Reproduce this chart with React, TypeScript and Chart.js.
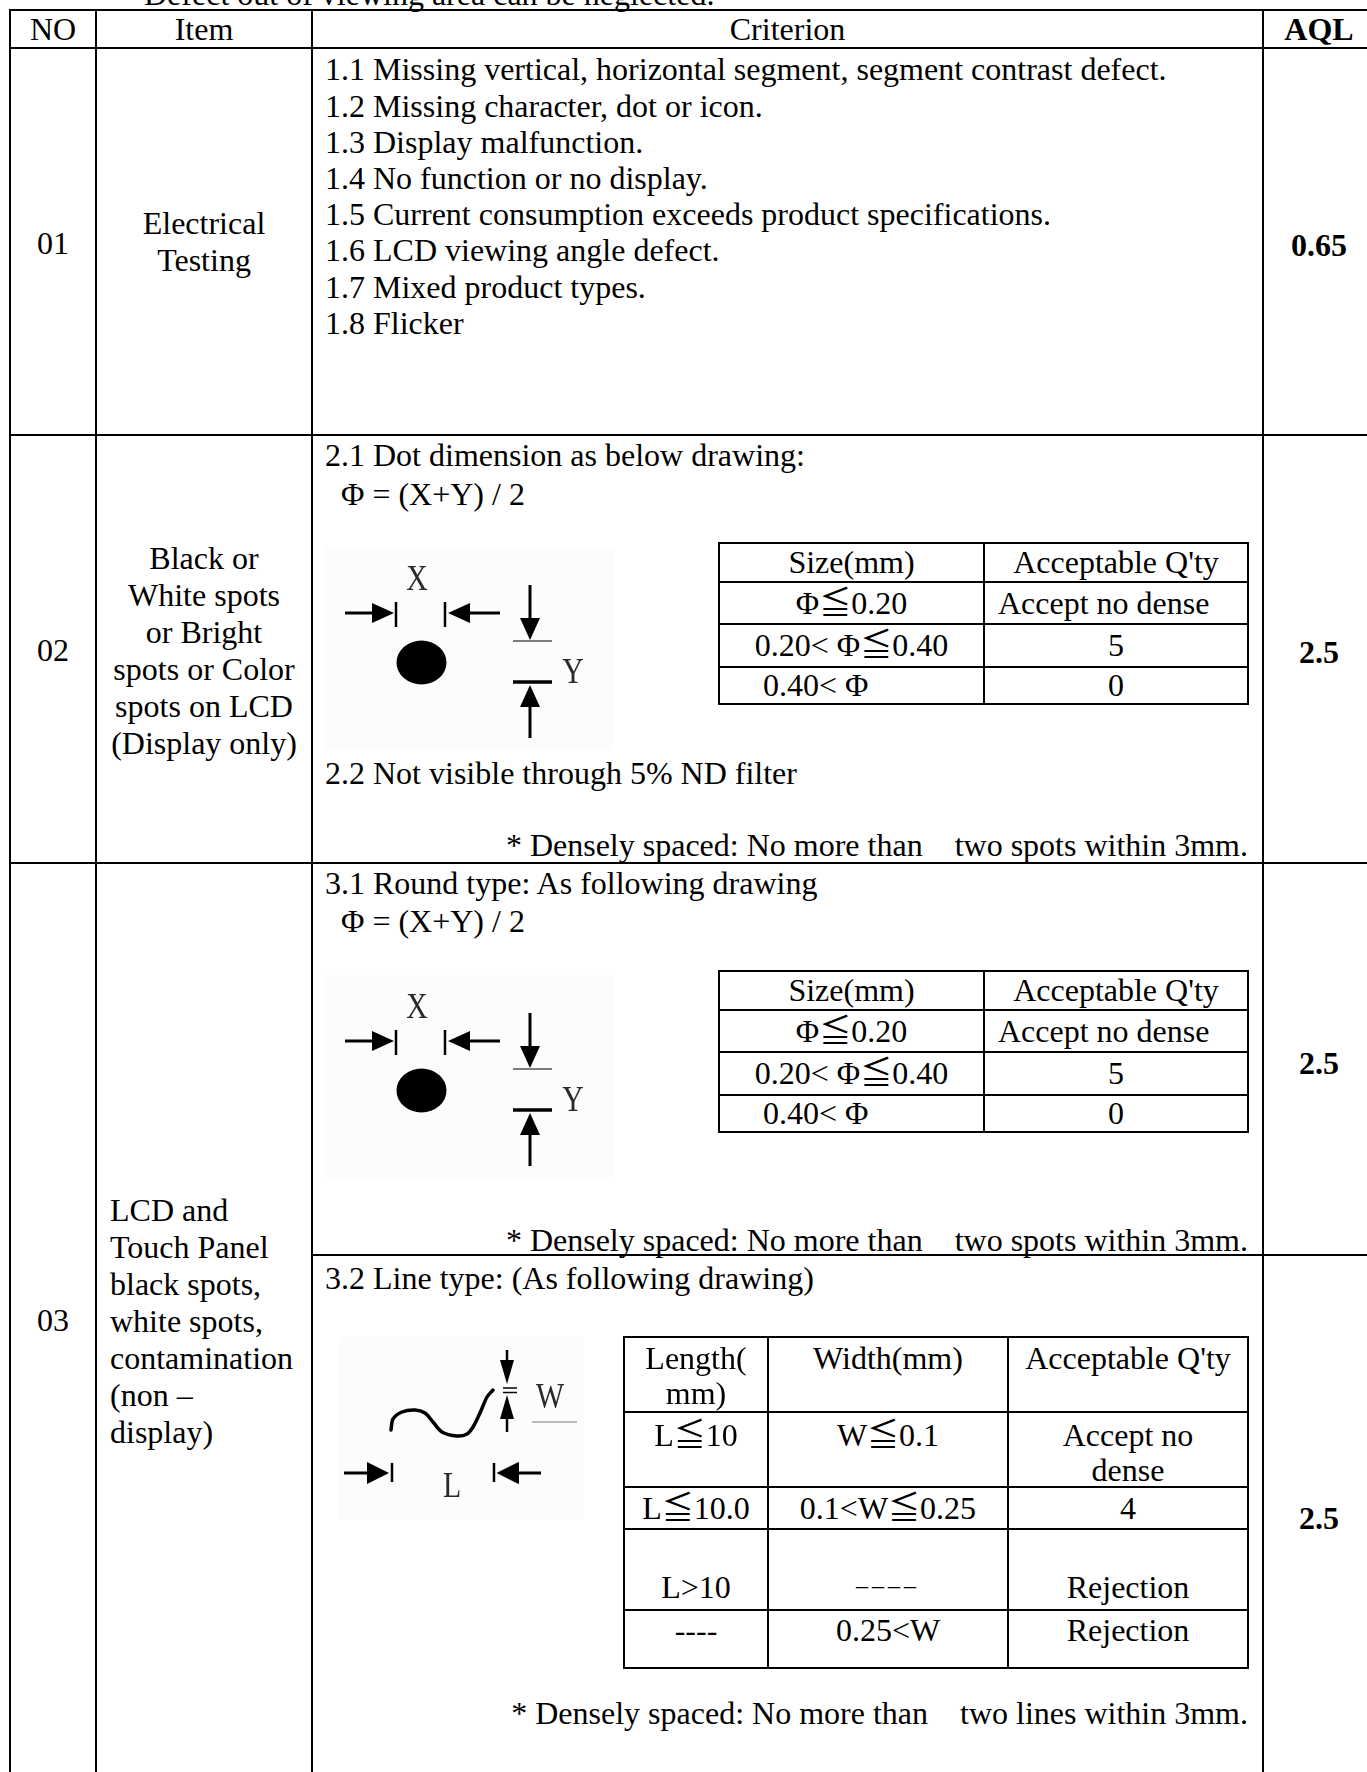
import React, { useEffect, useRef } from "react";
import { Chart, registerables } from "chart.js";

Chart.register(...registerables);

// ---------------- data ----------------
const NOTE_TOP = "Defect out of viewing area can be neglected.";
const HEADERS = ["NO", "Item", "Criterion", "AQL"];
const ROW_NO = ["01", "02", "03"];
const ITEM_01 = ["Electrical", "Testing"];
const ITEM_02 = ["Black or", "White spots", "or Bright", "spots or Color", "spots on LCD", "(Display only)"];
const ITEM_03 = ["LCD and", "Touch Panel", "black spots,", "white spots,", "contamination", "(non \u2013", "display)"];
const CRITERIA_01 = [
  "1.1 Missing vertical, horizontal segment, segment contrast defect.",
  "1.2 Missing character, dot or icon.",
  "1.3 Display malfunction.",
  "1.4 No function or no display.",
  "1.5 Current consumption exceeds product specifications.",
  "1.6 LCD viewing angle defect.",
  "1.7 Mixed product types.",
  "1.8 Flicker",
];
const CRITERIA_02 = ["2.1 Dot dimension as below drawing:", "  \u03a6 = (X+Y) / 2", "2.2 Not visible through 5% ND filter"];
const CRITERIA_031 = ["3.1 Round type: As following drawing", "  \u03a6 = (X+Y) / 2"];
const CRITERIA_032 = ["3.2 Line type: (As following drawing)"];
const DENSE_SPOTS = "* Densely spaced: No more than    two spots within 3mm.";
const DENSE_LINES = "* Densely spaced: No more than    two lines within 3mm.";
const AQL_VALUES = ["0.65", "2.5", "2.5", "2.5"];

const SPOT_HEADER = ["Size(mm)", "Acceptable Q'ty"];
const SPOT_SIZES = ["\u03a6\u22660.20", "0.20< \u03a6\u22660.40", "0.40< \u03a6"];
const SPOT_QTY = ["Accept no dense", "5", "0"];

const LINE_HEADER = [["Length(", "mm)"], ["Width(mm)"], ["Acceptable Q'ty"]];
const LINE_LENGTHS = ["L\u226610", "L\u226610.0", "L>10", "----"];
const LINE_WIDTHS = ["W\u22660.1", "0.1<W\u22660.25", "\u2013\u2013\u2013\u2013", "0.25<W"];
const LINE_QTY = [["Accept no", "dense"], ["4"], ["Rejection"], ["Rejection"]];

// diagram geometry (x: page px, y: px below the row's top line), fed through the chart scales
const DOT_SPOT = [{ x: 421.5, y: 227.5 }];
const DOT_X_SHAFTS = [
  [{ x: 345, y: 178 }, { x: 374, y: 178 }],
  [{ x: 468, y: 178 }, { x: 500, y: 178 }],
];
const DOT_X_BARS = [
  [{ x: 396, y: 167 }, { x: 396, y: 192 }],
  [{ x: 445, y: 167 }, { x: 445, y: 192 }],
];
const DOT_X_HEADS = [{ x: 383, y: 178, dir: 90 }, { x: 459, y: 178, dir: 270 }];
const DOT_Y_SHAFTS = [
  [{ x: 530, y: 150 }, { x: 530, y: 185 }],
  [{ x: 530, y: 270 }, { x: 530, y: 303 }],
];
const DOT_Y_HEADS = [{ x: 530, y: 194, dir: 180 }, { x: 530, y: 261, dir: 0 }];
const DOT_Y_TICKS = [
  [{ x: 513, y: 206 }, { x: 552, y: 206 }],
  [{ x: 513, y: 247 }, { x: 552, y: 247 }],
];

const LINE_WAVE = [
  { x: 391, y: 175 }, { x: 393, y: 164 }, { x: 402, y: 157 }, { x: 415, y: 155 },
  { x: 425, y: 158 }, { x: 433, y: 167 }, { x: 442, y: 177 }, { x: 457, y: 181 },
  { x: 467, y: 179 }, { x: 473, y: 172 }, { x: 480, y: 158 }, { x: 487, y: 142 }, { x: 493, y: 135 },
];
const LINE_W_SHAFTS = [
  [{ x: 507, y: 95 }, { x: 507, y: 110 }],
  [{ x: 507, y: 160 }, { x: 507, y: 177 }],
];
const LINE_W_HEADS = [{ x: 507, y: 117, dir: 180 }, { x: 507, y: 152, dir: 0 }];
const LINE_W_TICKS = [
  [{ x: 503, y: 133 }, { x: 517, y: 133 }],
  [{ x: 503, y: 137.5 }, { x: 517, y: 137.5 }],
];
const LINE_W_RULE = [{ x: 532, y: 167 }, { x: 577, y: 167 }];
const LINE_L_SHAFTS = [
  [{ x: 344, y: 218 }, { x: 370, y: 218 }],
  [{ x: 515, y: 218 }, { x: 541, y: 218 }],
];
const LINE_L_BARS = [
  [{ x: 392, y: 208 }, { x: 392, y: 227 }],
  [{ x: 494, y: 208 }, { x: 494, y: 227 }],
];
const LINE_L_HEADS = [{ x: 378, y: 218, dir: 90 }, { x: 507.5, y: 218, dir: 270 }];

// ---------------- layout ----------------
const FONT = '"Liberation Serif", "Times New Roman", "Noto Sans CJK JP", serif';
const FS = 32;
const LH = 37;
const X0 = 10, X1 = 96, X2 = 312, X3 = 1263, X4 = 1375;
const Y0 = 10, Y1 = 48, Y2 = 435, Y3 = 863, Y4 = 1255, Y5 = 1776;

function HL({ y, x1, x2, w = 2 }: { y: number; x1: number; x2: number; w?: number }) {
  return <div style={{ position: "absolute", left: x1 - 1, top: y - w / 2, width: x2 - x1 + 2, height: w, background: "#000" }} />;
}
function VL({ x, y1, y2, w = 2 }: { x: number; y1: number; y2: number; w?: number }) {
  return <div style={{ position: "absolute", left: x - w / 2, top: y1 - 1, width: w, height: y2 - y1 + 2, background: "#000" }} />;
}

type TxtProps = {
  x1: number; x2: number; cy: number; lines: string[]; align?: "left" | "center" | "right";
  bold?: boolean; lh?: number; pad?: number; fs?: number; ls?: number;
};
function Txt({ x1, x2, cy, lines, align = "center", bold = false, lh = LH, pad = 0, fs = FS, ls = 0 }: TxtProps) {
  return (
    <div
      style={{
        position: "absolute", left: x1, top: cy - lh / 2, width: x2 - x1, textAlign: align,
        fontFamily: FONT, fontSize: fs, lineHeight: lh + "px", fontWeight: bold ? 700 : 400,
        whiteSpace: "pre", color: "#000", paddingLeft: align === "left" ? pad : 0,
        paddingRight: align === "right" ? pad : 0, boxSizing: "border-box", letterSpacing: ls,
      }}
    >
      {lines.map((l, i) => <div key={i}>{l}</div>)}
    </div>
  );
}

function Label({ cx, cy, text }: { cx: number; cy: number; text: string }) {
  return (
    <div style={{ position: "absolute", left: cx - 25, top: cy - 21, width: 50, height: 40, lineHeight: "40px", textAlign: "center", fontFamily: FONT, fontSize: 35, color: "#2a2a2a", transform: "scaleX(0.85)" }}>
      {text}
    </div>
  );
}

function makeHead(w: number, h: number) {
  const c = document.createElement("canvas");
  c.width = w;
  c.height = h;
  const g = c.getContext("2d")!;
  g.fillStyle = "#000";
  g.beginPath();
  g.moveTo(w / 2, 0);
  g.lineTo(w, h);
  g.lineTo(0, h);
  g.closePath();
  g.fill();
  return c;
}
function makeEllipse(w: number, h: number) {
  const c = document.createElement("canvas");
  c.width = w;
  c.height = h;
  const g = c.getContext("2d")!;
  g.fillStyle = "#000";
  g.beginPath();
  g.ellipse(w / 2, h / 2, w / 2 - 0.5, h / 2 - 0.5, 0, 0, Math.PI * 2);
  g.fill();
  return c;
}

type Pt = { x: number; y: number };
function seg(data: Pt[], width = 3, color = "#000") {
  return { type: "scatter", data, showLine: true, borderColor: color, borderWidth: width, pointRadius: 0, tension: 0 } as any;
}

function DiagramChart({ left, top, xr, yr, build }: { left: number; top: number; xr: [number, number]; yr: [number, number]; build: () => any[] }) {
  const ref = useRef<HTMLCanvasElement>(null);
  useEffect(() => {
    if (!ref.current) return;
    const chart = new Chart(ref.current, {
      type: "scatter",
      data: { datasets: build() },
      options: {
        animation: false,
        responsive: false,
        events: [],
        layout: { padding: 0, autoPadding: false },
        plugins: { legend: { display: false }, tooltip: { enabled: false } },
        scales: {
          x: { type: "linear", display: false, min: xr[0], max: xr[1], offset: false },
          y: { type: "linear", display: false, min: yr[0], max: yr[1], reverse: true, offset: false },
        },
      } as any,
    });
    return () => chart.destroy();
  }, []);
  return (
    <canvas
      ref={ref}
      width={xr[1] - xr[0]}
      height={yr[1] - yr[0]}
      style={{ position: "absolute", left, top, width: xr[1] - xr[0], height: yr[1] - yr[0], background: "#fcfcfc" }}
    />
  );
}

function headDs(p: { x: number; y: number; dir: number }, img: HTMLCanvasElement) {
  return { type: "scatter", data: [{ x: p.x, y: p.y }], pointStyle: img, rotation: p.dir, pointRadius: 10, borderWidth: 0 } as any;
}

function buildDot() {
  const head = makeHead(20, 22);
  const ds: any[] = [];
  ds.push({ type: "scatter", data: DOT_SPOT, pointRadius: 24, pointStyle: makeEllipse(51, 45), borderWidth: 0 });
  DOT_X_SHAFTS.forEach((s) => ds.push(seg(s, 3)));
  DOT_X_BARS.forEach((b) => ds.push(seg(b, 2.5)));
  DOT_Y_SHAFTS.forEach((b) => ds.push(seg(b, 3)));
  ds.push(seg(DOT_Y_TICKS[0], 1.5, "#555"));
  ds.push(seg(DOT_Y_TICKS[1], 3.5));
  [...DOT_X_HEADS, ...DOT_Y_HEADS].forEach((h) => ds.push(headDs(h, head)));
  return ds;
}

function buildLine() {
  const head = makeHead(22, 22);
  const small = makeHead(14, 24);
  const ds: any[] = [];
  ds.push({ type: "scatter", data: LINE_WAVE, showLine: true, borderColor: "#000", borderWidth: 3.5, pointRadius: 0, tension: 0.3, borderCapStyle: "round" });
  LINE_W_SHAFTS.forEach((s) => ds.push(seg(s, 2.5)));
  LINE_W_TICKS.forEach((s) => ds.push(seg(s, 1.5)));
  ds.push(seg(LINE_W_RULE, 1.2, "#777"));
  LINE_L_SHAFTS.forEach((s) => ds.push(seg(s, 3)));
  LINE_L_BARS.forEach((s) => ds.push(seg(s, 2.5)));
  LINE_W_HEADS.forEach((h) => ds.push(headDs(h, small)));
  LINE_L_HEADS.forEach((h) => ds.push(headDs(h, head)));
  return ds;
}

function DotBlock({ rowTop }: { rowTop: number }) {
  const xs = [719, 984, 1248];
  const ys = [108, 147, 189, 232, 269].map((v) => v + rowTop);
  const cys = ys.slice(0, 4).map((v, i) => (v + ys[i + 1]) / 2);
  return (
    <>
      <DiagramChart left={325} top={rowTop + 112} xr={[325, 614]} yr={[112, 315]} build={buildDot} />
      <Label cx={417} cy={rowTop + 145} text="X" />
      <Label cx={573} cy={rowTop + 238} text="Y" />
      {ys.map((y, i) => <HL key={"h" + i} y={y} x1={xs[0]} x2={xs[2]} />)}
      {xs.map((x, i) => <VL key={"v" + i} x={x} y1={ys[0]} y2={ys[4]} />)}
      <Txt x1={xs[0]} x2={xs[1]} cy={cys[0]} lines={[SPOT_HEADER[0]]} />
      <Txt x1={xs[1]} x2={xs[2]} cy={cys[0]} lines={[SPOT_HEADER[1]]} />
      <Txt x1={xs[0]} x2={xs[1]} cy={cys[1]} lines={[SPOT_SIZES[0]]} />
      <Txt x1={xs[1]} x2={xs[2]} cy={cys[1]} lines={[SPOT_QTY[0]]} align="left" pad={14} />
      <Txt x1={xs[0]} x2={xs[1]} cy={cys[2]} lines={[SPOT_SIZES[1]]} />
      <Txt x1={xs[1]} x2={xs[2]} cy={cys[2]} lines={[SPOT_QTY[1]]} />
      <Txt x1={xs[0]} x2={xs[1]} cy={cys[3]} lines={[SPOT_SIZES[2]]} align="left" pad={44} />
      <Txt x1={xs[1]} x2={xs[2]} cy={cys[3]} lines={[SPOT_QTY[2]]} />
    </>
  );
}

function LineBlock({ rowTop }: { rowTop: number }) {
  const xs = [624, 768, 1008, 1248];
  const ys = [82, 157, 232, 274, 355, 413].map((v) => v + rowTop);
  const firstCy = [103, 180, 253, 332, 375].map((v) => v + rowTop);
  return (
    <>
      <DiagramChart left={338} top={rowTop + 82} xr={[338, 583]} yr={[82, 265]} build={buildLine} />
      <Label cx={550} cy={rowTop + 143} text="W" />
      <Label cx={452} cy={rowTop + 232} text="L" />
      {ys.map((y, i) => <HL key={"h" + i} y={y} x1={xs[0]} x2={xs[3]} />)}
      {xs.map((x, i) => <VL key={"v" + i} x={x} y1={ys[0]} y2={ys[5]} />)}
      {LINE_HEADER.map((l, i) => <Txt key={"hd" + i} x1={xs[i]} x2={xs[i + 1]} cy={firstCy[0]} lines={l} lh={35} />)}
      {LINE_LENGTHS.map((l, r) => <Txt key={"l" + r} x1={xs[0]} x2={xs[1]} cy={firstCy[r + 1]} lines={[l]} />)}
      {LINE_WIDTHS.map((l, r) =>
        r === 2 ? (
          <Txt key={"w" + r} x1={xs[1]} x2={xs[2]} cy={firstCy[r + 1] - 2} lines={[l]} fs={24} ls={4} />
        ) : (
          <Txt key={"w" + r} x1={xs[1]} x2={xs[2]} cy={firstCy[r + 1]} lines={[l]} />
        )
      )}
      {LINE_QTY.map((l, r) => <Txt key={"q" + r} x1={xs[2]} x2={xs[3]} cy={firstCy[r + 1]} lines={l} lh={35} />)}
    </>
  );
}

export default function App() {
  const cx2 = X2 + 13;
  return (
    <div style={{ position: "absolute", left: 0, top: 0, width: 1367, height: 1772, overflow: "hidden", background: "#fff" }}>
      {/* clipped note above the table */}
      <div style={{ position: "absolute", left: 144, top: -24, fontFamily: FONT, fontSize: FS, lineHeight: LH + "px", whiteSpace: "pre" }}>{NOTE_TOP}</div>

      {/* grid lines */}
      <HL y={Y0} x1={X0} x2={X4} />
      <HL y={Y1} x1={X0} x2={X4} />
      <HL y={Y2} x1={X0} x2={X4} />
      <HL y={Y3} x1={X0} x2={X4} />
      <HL y={Y4} x1={X2} x2={X4} />
      <HL y={Y5} x1={X0} x2={X4} />
      <VL x={X0} y1={Y0} y2={Y5} />
      <VL x={X1} y1={Y0} y2={Y5} />
      <VL x={X2} y1={Y0} y2={Y5} />
      <VL x={X3} y1={Y0} y2={Y5} />
      <VL x={X4} y1={Y0} y2={Y5} />

      {/* header */}
      <Txt x1={X0} x2={X1} cy={29} lines={[HEADERS[0]]} />
      <Txt x1={X1} x2={X2} cy={29} lines={[HEADERS[1]]} />
      <Txt x1={X2} x2={X3} cy={29} lines={[HEADERS[2]]} />
      <Txt x1={X3} x2={X4} cy={29} lines={[HEADERS[3]]} bold />

      {/* NO */}
      <Txt x1={X0} x2={X1} cy={243} lines={[ROW_NO[0]]} />
      <Txt x1={X0} x2={X1} cy={650} lines={[ROW_NO[1]]} />
      <Txt x1={X0} x2={X1} cy={1320} lines={[ROW_NO[2]]} />

      {/* Item */}
      <Txt x1={X1} x2={X2} cy={223} lines={ITEM_01} />
      <Txt x1={X1} x2={X2} cy={558} lines={ITEM_02} />
      <Txt x1={X1} x2={X2} cy={1210} lines={ITEM_03} align="left" pad={14} />

      {/* Criterion row 01 */}
      <Txt x1={cx2} x2={X3} cy={69.5} lines={CRITERIA_01} align="left" lh={36.2} />

      {/* Criterion row 02 */}
      <Txt x1={cx2} x2={X3} cy={Y2 + 20} lines={CRITERIA_02.slice(0, 2)} align="left" lh={39} />
      <DotBlock rowTop={Y2} />
      <Txt x1={cx2} x2={X3} cy={Y2 + 338} lines={[CRITERIA_02[2]]} align="left" />
      <Txt x1={X2} x2={X3} cy={Y2 + 410} lines={[DENSE_SPOTS]} align="right" pad={15} />

      {/* Criterion row 03 - 3.1 */}
      <Txt x1={cx2} x2={X3} cy={Y3 + 20} lines={CRITERIA_031} align="left" lh={38} />
      <DotBlock rowTop={Y3} />
      <Txt x1={X2} x2={X3} cy={Y3 + 377} lines={[DENSE_SPOTS]} align="right" pad={15} />

      {/* Criterion row 03 - 3.2 */}
      <Txt x1={cx2} x2={X3} cy={Y4 + 23} lines={CRITERIA_032} align="left" />
      <LineBlock rowTop={Y4} />
      <Txt x1={X2} x2={X3} cy={Y4 + 458} lines={[DENSE_LINES]} align="right" pad={15} />

      {/* AQL */}
      <Txt x1={X3} x2={X4} cy={245} lines={[AQL_VALUES[0]]} bold />
      <Txt x1={X3} x2={X4} cy={652} lines={[AQL_VALUES[1]]} bold />
      <Txt x1={X3} x2={X4} cy={1063} lines={[AQL_VALUES[2]]} bold />
      <Txt x1={X3} x2={X4} cy={1518} lines={[AQL_VALUES[3]]} bold />
    </div>
  );
}
